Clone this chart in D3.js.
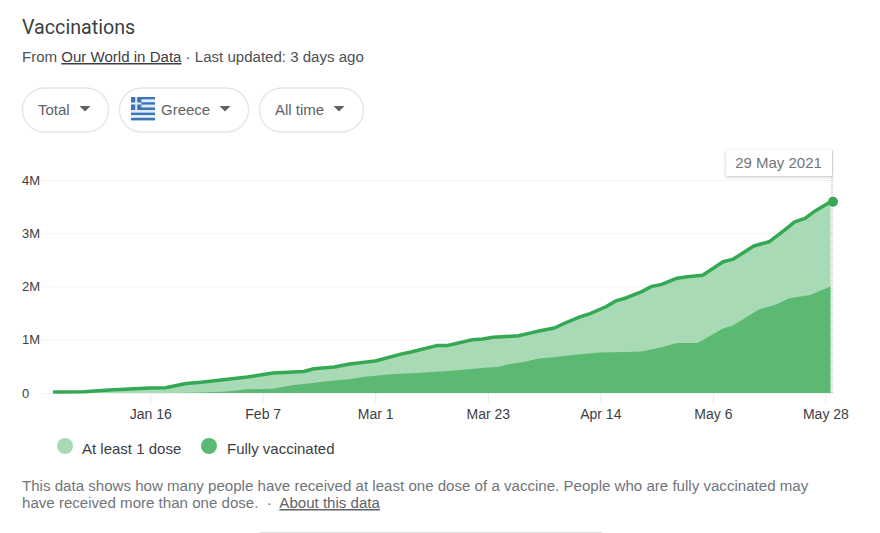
<!DOCTYPE html>
<html>
<head>
<meta charset="utf-8">
<script src="https://cdn.jsdelivr.net/npm/d3@7"></script>
<style>
  html, body { margin: 0; padding: 0; background: #fff; overflow: hidden; }
  text { font-family: "Liberation Sans", Arial, sans-serif; }
  .axis .domain { display: none; }
</style>
</head>
<body>
<svg id="chart" width="880" height="533"></svg>
<script>
// values in millions
var totalDates = ["2020-12-28","2021-01-03","2021-01-08","2021-01-16","2021-01-19","2021-01-23","2021-01-26","2021-01-29",
  "2021-02-04","2021-02-09","2021-02-15","2021-02-17","2021-02-21","2021-02-24","2021-03-01","2021-03-06","2021-03-08",
  "2021-03-13","2021-03-15","2021-03-20","2021-03-22","2021-03-24","2021-03-29","2021-03-31","2021-04-02","2021-04-05",
  "2021-04-07","2021-04-10","2021-04-12","2021-04-15","2021-04-17","2021-04-19","2021-04-22","2021-04-24","2021-04-26",
  "2021-04-29","2021-05-01","2021-05-04","2021-05-08","2021-05-10","2021-05-14","2021-05-17","2021-05-20","2021-05-22",
  "2021-05-24","2021-05-26","2021-05-29"];
var totalValues = [0.02,0.025,0.055,0.095,0.10,0.18,0.20,0.235,
  0.30,0.375,0.405,0.455,0.49,0.545,0.60,0.73,0.77,
  0.89,0.89,1.0,1.015,1.045,1.075,1.12,1.165,1.22,
  1.31,1.43,1.49,1.615,1.73,1.785,1.90,2.0,2.04,
  2.155,2.185,2.21,2.465,2.515,2.76,2.84,3.06,3.215,
  3.28,3.42,3.59];

var fullDates = ["2021-01-20","2021-01-26","2021-01-31","2021-02-04","2021-02-09","2021-02-13","2021-02-16","2021-02-20",
  "2021-02-24","2021-02-27","2021-03-04","2021-03-10","2021-03-16","2021-03-23","2021-03-25","2021-03-27","2021-03-30",
  "2021-04-02","2021-04-05","2021-04-09","2021-04-14","2021-04-19","2021-04-22","2021-04-26","2021-04-29","2021-05-03",
  "2021-05-08","2021-05-10","2021-05-15","2021-05-18","2021-05-21","2021-05-25","2021-05-29"];
var fullValues = [0,0.01,0.03,0.07,0.08,0.15,0.18,0.225,
  0.26,0.305,0.35,0.38,0.42,0.48,0.49,0.54,0.58,
  0.65,0.67,0.72,0.76,0.77,0.78,0.86,0.94,0.94,
  1.21,1.27,1.57,1.65,1.78,1.84,2.0];

var xTickDates = ["2021-01-16","2021-02-07","2021-03-01","2021-03-23","2021-04-14","2021-05-06","2021-05-28"];
var xTickLabels = ["Jan 16","Feb 7","Mar 1","Mar 23","Apr 14","May 6","May 28"];
var yTicks = [0,1,2,3,4];
var yTickLabels = ["0","1M","2M","3M","4M"];
var filters = ["Total","Greece","All time"];
var legendLabels = ["At least 1 dose","Fully vaccinated"];

var parseDate = d3.utcParse("%Y-%m-%d");
var svg = d3.select("#chart");

var x = d3.scaleUtc()
  .domain([parseDate("2020-12-28"), parseDate("2021-05-29")])
  .range([53, 830.5]);
var y = d3.scaleLinear().domain([0, 4]).range([393, 180]);

var total = totalDates.map(function(d, i) { return { date: parseDate(d), value: totalValues[i] }; });
var full = fullDates.map(function(d, i) { return { date: parseDate(d), value: fullValues[i] }; });

// header
svg.append("text").attr("x", 22).attr("y", 34)
  .style("font-family", "Roboto, sans-serif").style("font-size", "19.7px").attr("fill", "#3c4043")
  .text("Vaccinations");

var sub = svg.append("text").attr("x", 22).attr("y", 62)
  .style("font-size", "15.05px").attr("fill", "#4d5156");
sub.append("tspan").text("From ");
sub.append("tspan").attr("fill", "#3c4043").style("text-decoration", "underline").text("Our World in Data");
sub.append("tspan").text(" · Last updated: 3 days ago");

// filter pills
var pills = [
  { x: 22.5, w: 86, tx: 38, ax: 85 },
  { x: 119.5, w: 129, tx: 161, ax: 225 },
  { x: 259.5, w: 104, tx: 275, ax: 339 }
];
pills.forEach(function(p, i) {
  svg.append("rect").attr("x", p.x).attr("y", 88).attr("width", p.w).attr("height", 44)
    .attr("rx", 22).attr("fill", "#fff").attr("stroke", "#e3e5e8").attr("stroke-width", 1.3);
  svg.append("text").attr("x", p.tx).attr("y", 115)
    .style("font-size", "15px").attr("fill", "#5f6368").text(filters[i]);
  svg.append("path")
    .attr("d", "M" + (p.ax - 5.5) + ",106h11l-5.5,5.5z")
    .attr("fill", "#5f6368");
});

// greek flag
var flag = svg.append("g").attr("transform", "translate(131,97)");
d3.range(9).forEach(function(i) {
  flag.append("rect").attr("x", 0).attr("y", i * 2.6).attr("width", 24).attr("height", 2.6)
    .attr("fill", i % 2 ? "#e4edf7" : "#3b76bd");
});
flag.append("rect").attr("width", 10.4).attr("height", 13).attr("fill", "#3b76bd");
flag.append("rect").attr("x", 4.2).attr("width", 2).attr("height", 13).attr("fill", "#e4edf7");
flag.append("rect").attr("y", 5.5).attr("width", 10.4).attr("height", 2).attr("fill", "#e4edf7");

// axes
var yAxis = d3.axisLeft(y).tickValues(yTicks)
  .tickFormat(function(d, i) { return yTickLabels[i]; })
  .tickSize(-791).tickPadding(3);
var yG = svg.append("g").attr("class", "axis").attr("transform", "translate(41,0)").call(yAxis);
yG.selectAll(".tick line").attr("stroke", "#f1f3f4");
yG.selectAll(".tick text").attr("x", -19).attr("text-anchor", "start")
  .style("font-size", "13px").attr("fill", "#3c4043");

var xAxis = d3.axisBottom(x).tickValues(xTickDates.map(parseDate))
  .tickFormat(function(d, i) { return xTickLabels[i]; })
  .tickSize(10).tickPadding(6);
var xG = svg.append("g").attr("class", "axis").attr("transform", "translate(0,393)").call(xAxis);
xG.selectAll(".tick line").attr("stroke", "#e8eaed");
xG.selectAll(".tick text").style("font-size", "14px").attr("fill", "#3c4043");

// areas and line
var area = d3.area().x(function(d) { return x(d.date); }).y0(y(0)).y1(function(d) { return y(d.value); });
var line = d3.line().x(function(d) { return x(d.date); }).y(function(d) { return y(d.value); });

svg.append("path").datum(total).attr("d", area).attr("fill", "#a8dab5");
svg.append("path").datum(full).attr("d", area).attr("fill", "#5bb974");
svg.append("path").datum(total).attr("d", line).attr("fill", "none")
  .attr("stroke", "#34a853").attr("stroke-width", 3.5).attr("stroke-linejoin", "round");

// hover marker
var last = total[total.length - 1];
svg.append("line").attr("x1", x(last.date) + 1.5).attr("x2", x(last.date) + 1.5).attr("y1", 150).attr("y2", 393)
  .attr("stroke", "#9aa0a6").attr("stroke-width", 1).attr("stroke-dasharray", "1,1");
svg.append("circle").attr("cx", x(last.date) + 2.5).attr("cy", y(last.value)).attr("r", 5).attr("fill", "#34a853");

// tooltip
var defs = svg.append("defs");
var shadow = defs.append("filter").attr("id", "tip-shadow")
  .attr("x", "-10%").attr("y", "-20%").attr("width", "120%").attr("height", "150%");
shadow.append("feDropShadow").attr("dx", 0).attr("dy", 1).attr("stdDeviation", 1.5)
  .attr("flood-color", "#000").attr("flood-opacity", 0.25);
svg.append("rect").attr("x", 726).attr("y", 150).attr("width", 106).attr("height", 26)
  .attr("fill", "#fff").attr("filter", "url(#tip-shadow)");
svg.append("text").attr("x", 778.5).attr("y", 168).attr("text-anchor", "middle")
  .style("font-size", "15px").attr("fill", "#70757a").text("29 May 2021");

// legend
var legendX = [[65, 82], [209, 227]];
var legendColors = ["#a8dab5", "#5bb974"];
legendLabels.forEach(function(label, i) {
  svg.append("circle").attr("cx", legendX[i][0]).attr("cy", 446).attr("r", 8).attr("fill", legendColors[i]);
  svg.append("text").attr("x", legendX[i][1]).attr("y", 454)
    .style("font-size", "15px").attr("fill", "#3c4043").text(label);
});

// footnote
svg.append("text").attr("x", 22).attr("y", 491).style("font-size", "15.08px").attr("fill", "#70757a")
  .text("This data shows how many people have received at least one dose of a vaccine. People who are fully vaccinated may");
var foot = svg.append("text").attr("x", 22).attr("y", 508).style("font-size", "15.08px").attr("fill", "#70757a");
foot.append("tspan").text("have received more than one dose. \u00a0·\u00a0 ");
foot.append("tspan").attr("fill", "#5f6368").style("text-decoration", "underline").text("About this data");

// divider at the bottom edge
svg.append("rect").attr("x", 260).attr("y", 532).attr("width", 342).attr("height", 1).attr("fill", "#dadce0");
</script>
</body>
</html>
